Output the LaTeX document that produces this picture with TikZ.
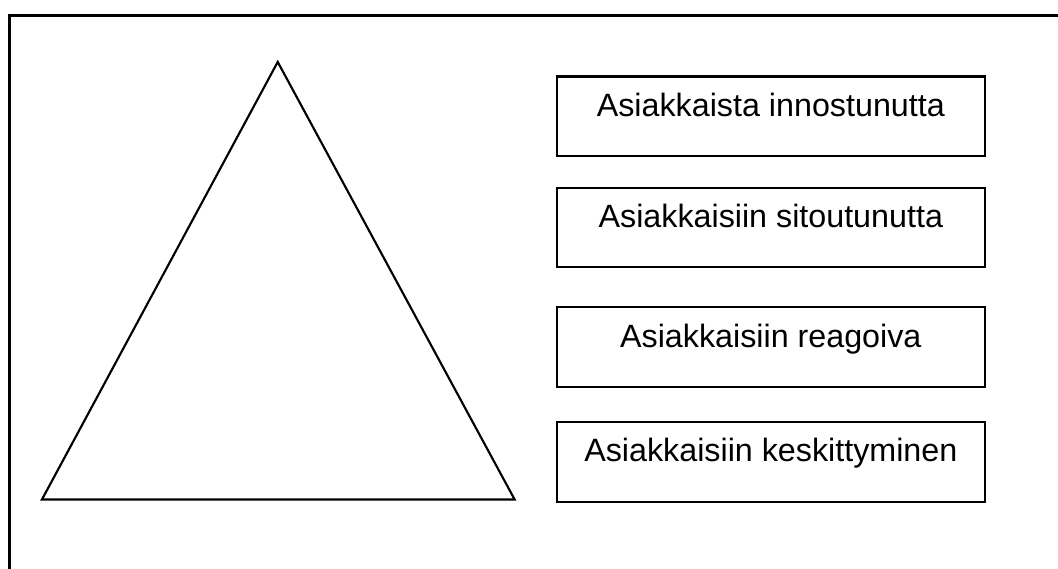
\documentclass[tikz,border=0pt]{standalone}
\usepackage{fontspec}
\setmainfont{Liberation Sans}

\begin{document}
\begin{tikzpicture}[every node/.style={font=\fontsize{24.3}{28}\selectfont},
    levelbox/.style={rectangle, draw, line width=1.6pt, minimum width=11.32cm,
        inner ysep=0pt, text height=30pt, text depth=30pt}]

    \clip (0,0) rectangle (28,15.05);

    % Outer frame
    \draw[line width=2.25pt] (0.26,-1) rectangle (29,14.64);

    % Triangle
    \draw[line width=1.6pt] (7.35,13.41) -- (13.62,1.83) -- (1.11,1.83) -- cycle;

    % Boxes for the levels
    \node[levelbox] (innostunut) at (20.40,11.97) {Asiakkaista innostunutta};
    \node[levelbox] (sitoutunut) at (20.40,9.03) {Asiakkaisiin sitoutunutta};
    \node[levelbox] (reagoiva) at (20.40,5.86) {Asiakkaisiin reagoiva};
    \node[levelbox] (keskittyminen) at (20.40,2.83) {Asiakkaisiin keskittyminen};

\end{tikzpicture}
\end{document}
